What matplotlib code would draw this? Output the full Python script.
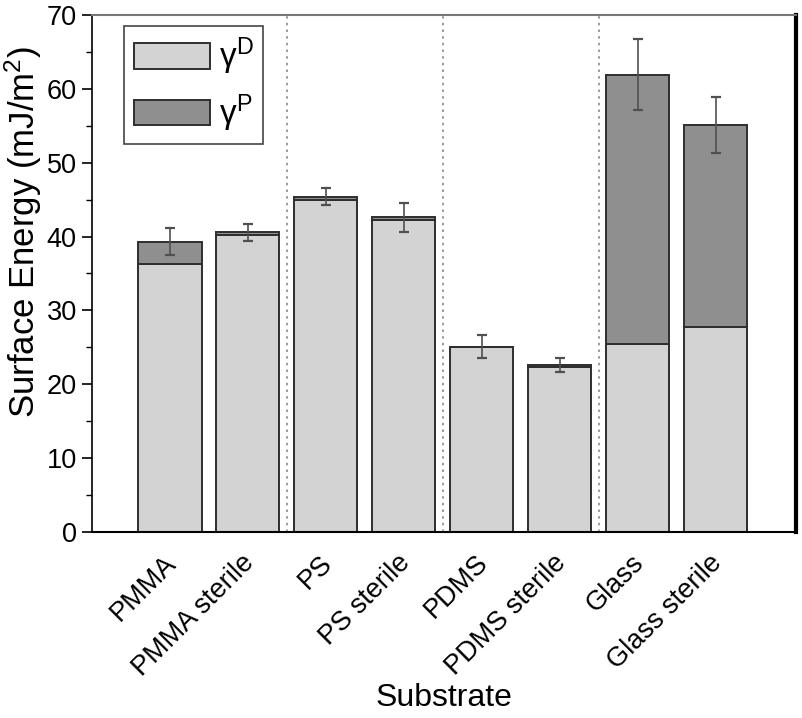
import matplotlib
matplotlib.use('Agg')
import matplotlib.pyplot as plt
from matplotlib.ticker import MultipleLocator
import numpy as np

plt.rcParams['font.family'] = ['Liberation Sans', 'DejaVu Sans']
plt.rcParams['mathtext.fontset'] = 'custom'
plt.rcParams['mathtext.rm'] = 'Liberation Sans'
plt.rcParams['mathtext.it'] = 'Liberation Sans:italic'

substrates = ['PMMA', 'PMMA sterile', 'PS', 'PS sterile',
              'PDMS', 'PDMS sterile', 'Glass', 'Glass sterile']
gamma_d = [36.3, 40.2, 45.0, 42.2, 25.0, 22.3, 25.5, 27.7]
gamma_p = [3.0, 0.4, 0.4, 0.4, 0.1, 0.3, 36.4, 27.4]
err = [1.8, 1.15, 1.15, 2.0, 1.6, 0.9, 4.8, 3.85]

x = np.arange(len(substrates))
total = np.array(gamma_d) + np.array(gamma_p)

fig = plt.figure(figsize=(8.02, 7.18), dpi=100)
ax = fig.add_axes([0.1147, 0.2591, 0.8778, 0.72])

edge = '#2e2e2e'
ax.bar(x, gamma_d, width=0.81, color='#d3d3d3', edgecolor=edge, linewidth=1.4,
       label='γ$^{\\mathrm{D}}$', zorder=2)
ax.bar(x, gamma_p, width=0.81, bottom=gamma_d, color='#8f8f8f', edgecolor=edge,
       linewidth=1.4, label='γ$^{\\mathrm{P}}$', zorder=2)
ax.errorbar(x, total, yerr=err, fmt='none', ecolor='#505050', elinewidth=1.2,
            capsize=3.5, capthick=1.6, zorder=3)

# group separators
for sep in [1.5, 3.5, 5.5]:
    ax.axvline(sep, color='#8a8a8a', linestyle=(0, (1.5, 2.5)), linewidth=1.2, zorder=1)

ax.set_xlim(-1.0, 8.03)
ax.set_ylim(0, 70)
ax.yaxis.set_major_locator(MultipleLocator(10))
ax.yaxis.set_minor_locator(MultipleLocator(5))
ax.set_xticks(x)
ax.set_xticklabels(substrates, rotation=45, ha='right', va='center_baseline',
                   rotation_mode='anchor', fontsize=19.5)
ax.tick_params(axis='x', length=0, pad=18)
ax.tick_params(axis='y', which='major', labelsize=19.5, length=7, width=1.2,
               direction='out', pad=4)
ax.tick_params(axis='y', which='minor', length=4, width=1.0, direction='out')

ax.set_ylabel('Surface Energy (mJ/m$^2$)', fontsize=25)
ax.yaxis.set_label_coords(-0.068, 0.58)
ax.set_xlabel('Substrate', fontsize=23)
ax.xaxis.set_label_coords(0.5, -0.292)

ax.spines['top'].set_color('#777777')
ax.spines['top'].set_linewidth(1.5)
ax.spines['right'].set_linewidth(3)
ax.spines['left'].set_linewidth(1.2)
ax.spines['bottom'].set_linewidth(1.5)

leg = ax.legend(loc='upper left', bbox_to_anchor=(0.045, 0.979), fontsize=24,
                handlelength=2.3, handleheight=0.8, fancybox=False,
                edgecolor='#444444', framealpha=1, borderpad=0.3,
                labelspacing=0.45, handletextpad=0.25, borderaxespad=0)
leg.get_frame().set_linewidth(1.2)

fig.savefig('out.png', dpi=100)
